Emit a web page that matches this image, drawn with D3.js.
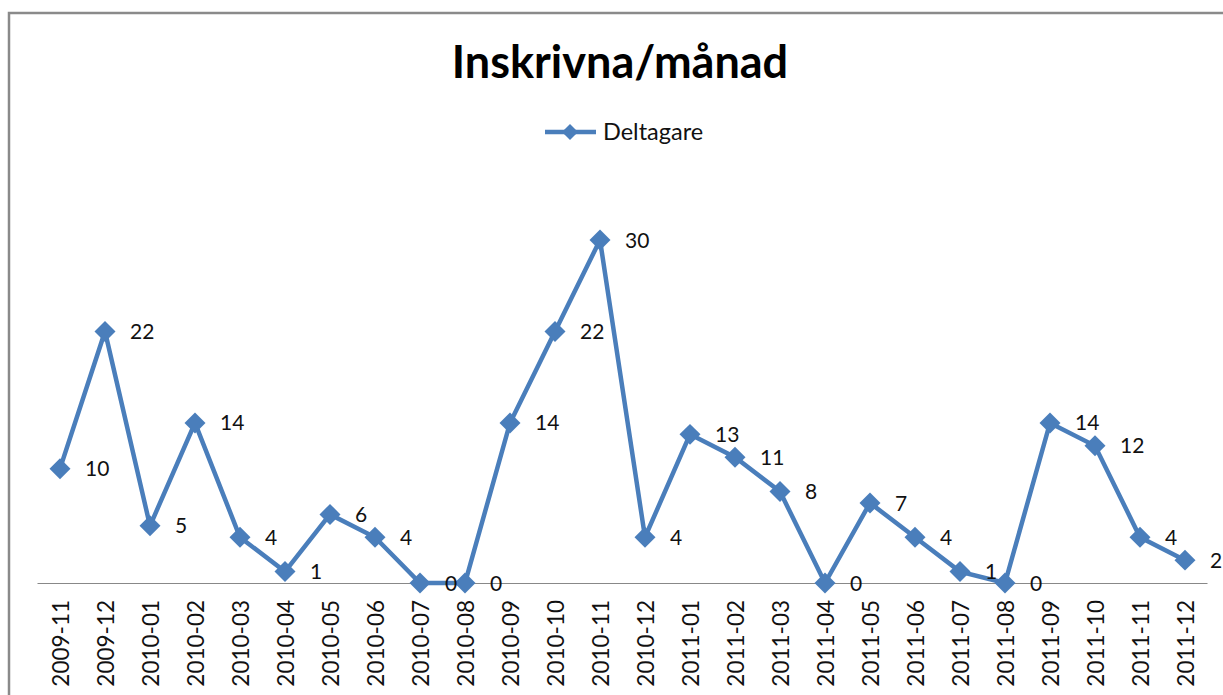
<!DOCTYPE html>
<html><head><meta charset="utf-8">
<script src="https://cdn.jsdelivr.net/npm/d3@7"></script>
<style>html,body{margin:0;padding:0;background:#fff;overflow:hidden}</style>
</head><body>
<script>
const categories = ["2009-11","2009-12","2010-01","2010-02","2010-03","2010-04","2010-05","2010-06","2010-07","2010-08","2010-09","2010-10","2010-11","2010-12","2011-01","2011-02","2011-03","2011-04","2011-05","2011-06","2011-07","2011-08","2011-09","2011-10","2011-11","2011-12"];
const deltagare = [10,22,5,14,4,1,6,4,0,0,14,22,30,4,13,11,8,0,7,4,1,0,14,12,4,2];
const seriesName = "Deltagare";
const title = "Inskrivna/månad";

const W = 1223, H = 695;
const svg = d3.select("body").append("svg").attr("width", W).attr("height", H);
const font = "Lato, 'Open Sans', sans-serif";
const blue = "#4A7EBB";

svg.append("rect").attr("x", 9).attr("y", 13).attr("width", 1300).attr("height", 800)
  .attr("fill", "none").attr("stroke", "#8a8a8a").attr("stroke-width", 2.5);

const x = d3.scalePoint().domain(categories).range([60, 1185]);
const y = d3.scaleLinear().domain([0, 30]).range([583, 240]);

svg.append("text").attr("x", 620).attr("y", 78).attr("text-anchor", "middle")
  .attr("font-family", font).attr("font-weight", "bold").attr("font-size", 45).text(title);

// legend
const lg = svg.append("g");
lg.append("line").attr("x1", 545).attr("x2", 596).attr("y1", 132).attr("y2", 132)
  .attr("stroke", blue).attr("stroke-width", 4.5);
lg.append("path").attr("d", d3.symbol(d3.symbolSquare, 130)())
  .attr("transform", "translate(570,132) rotate(45)").attr("fill", blue);
lg.append("text").attr("x", 603).attr("y", 140).attr("font-family", font).attr("font-size", 23.5)
  .attr("fill", "#111").text(seriesName);

// axis
const xAxis = d3.axisBottom(x).tickSize(0).tickPadding(0);
const ax = svg.append("g").attr("transform", "translate(0,583)").call(xAxis);
ax.select(".domain").attr("d", "M37.5,0.5H1207.5").attr("stroke", "#888").attr("stroke-width", 1.2);
ax.selectAll(".tick text")
  .attr("font-family", font).attr("font-size", 22.5).attr("fill", "#111")
  .attr("transform", "rotate(-90)").attr("text-anchor", "end")
  .attr("x", -17).attr("y", 0).attr("dy", "0.36em");

// line
const line = d3.line().x((d, i) => x(categories[i])).y(d => y(d));
svg.append("path").datum(deltagare).attr("d", line).attr("fill", "none")
  .attr("stroke", blue).attr("stroke-width", 4.5).attr("stroke-linejoin", "miter");

svg.selectAll(".mk").data(deltagare).enter().append("path")
  .attr("d", d3.symbol(d3.symbolSquare, 220)())
  .attr("transform", (d, i) => `translate(${x(categories[i])},${y(d)}) rotate(45)`)
  .attr("fill", blue);

svg.selectAll(".lbl").data(deltagare).enter().append("text")
  .attr("x", (d, i) => x(categories[i]) + 25).attr("y", d => y(d)).attr("dy", "0.36em")
  .attr("font-family", font).attr("font-size", 21).attr("fill", "#111").text(d => d);
</script>
</body></html>
